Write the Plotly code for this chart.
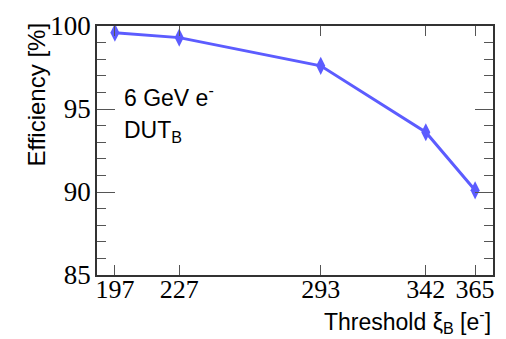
import plotly.graph_objects as go

thresholds = [197, 227, 293, 342, 365]
efficiency = [99.6, 99.3, 97.6, 93.6, 90.1]
tick_labels = ["197", "227", "293", "342", "365"]
y_ticks = [85, 90, 95, 100]

W, H = 506, 339
L, R, T, B = 97, 11, 15, 64
pw = W - L - R
ph = H - T - B

fig = go.Figure()
fig.add_trace(go.Scatter(
    x=thresholds, y=efficiency, mode="lines+markers",
    line=dict(color="#5c5cff", width=3),
    marker=dict(symbol="diamond-tall", size=13, color="#5c5cff"),
    showlegend=False,
))

serif = "Liberation Serif, Times New Roman, serif"
sans = "Liberation Sans, Arial, sans-serif"

fig.update_layout(
    width=W, height=H,
    margin=dict(l=L, r=R, t=T, b=B),
    paper_bgcolor="white", plot_bgcolor="white",
    xaxis=dict(
        range=[188.65, 373.35], tickvals=thresholds, ticktext=tick_labels,
        ticks="inside", ticklen=10, tickcolor="#555", tickwidth=1,
        showline=True, linecolor="#333", linewidth=1.5, mirror="ticks",
        showgrid=False, zeroline=False, ticklabelstandoff=-10,
        tickfont=dict(family=serif, size=26, color="black"),
    ),
    yaxis=dict(
        range=[85, 100], tickvals=y_ticks,
        ticks="inside", ticklen=18, tickcolor="#555", tickwidth=1,
        minor=dict(dtick=1, ticks="inside", ticklen=9, tickcolor="#555", tickwidth=1, showgrid=False),
        showline=True, linecolor="#333", linewidth=1.5, mirror="ticks",
        showgrid=False, zeroline=False, ticklabelstandoff=-1,
        tickfont=dict(family=serif, size=27, color="black"),
    ),
    annotations=[
        dict(text="Efficiency [%]", xref="paper", yref="paper",
             x=(36 - L) / pw, y=1 + (T - 9) / ph, xanchor="center", yanchor="top",
             textangle=-90, showarrow=False,
             font=dict(family=sans, size=24, color="black")),
        dict(text="Threshold ξ<sub>B</sub> [e<sup>-</sup>]", xref="paper", yref="paper",
             x=1, y=(ph - (323 - T)) / ph, xanchor="right", yanchor="middle",
             showarrow=False, font=dict(family=sans, size=23, color="black")),
        dict(text="6 GeV e<sup>-</sup>", xref="paper", yref="paper",
             x=(122 - L) / pw, y=(ph - (88 - T)) / ph, xanchor="left", yanchor="middle",
             showarrow=False, font=dict(family=sans, size=23, color="black")),
        dict(text="DUT<sub>B</sub>", xref="paper", yref="paper",
             x=(122 - L) / pw, y=(ph - (125 - T)) / ph, xanchor="left", yanchor="middle",
             showarrow=False, font=dict(family=sans, size=23, color="black")),
    ],
)

fig.write_html("out.html")
